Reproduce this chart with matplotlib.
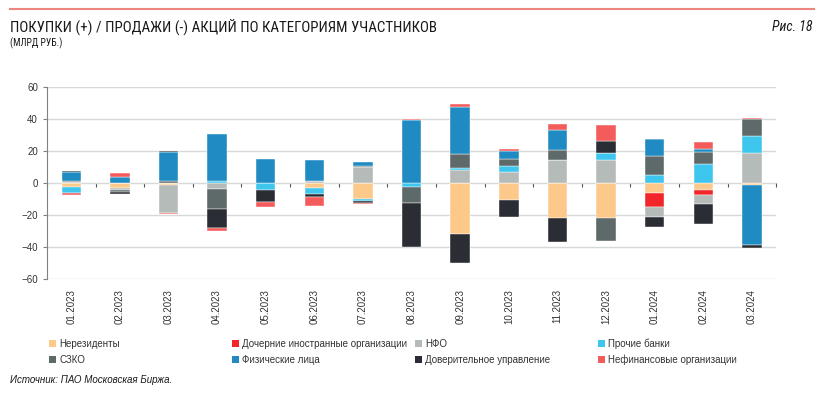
import matplotlib
matplotlib.use('Agg')
import matplotlib.pyplot as plt
from matplotlib import font_manager
from matplotlib.patches import Patch
import numpy as np

months = ['01.2023', '02.2023', '03.2023', '04.2023', '05.2023', '06.2023', '07.2023',
          '08.2023', '09.2023', '10.2023', '11.2023', '12.2023', '01.2024', '02.2024', '03.2024']

series_names = [
    'Нерезиденты',
    'Дочерние иностранные организации',
    'НФО',
    'Прочие банки',
    'СЗКО',
    'Физические лица',
    'Доверительное управление',
    'Нефинансовые организации',
]

nonresidents = [-2.5, -3.0, -1.0, 0, 0, -3.0, -10.0, 0, -31.9, -10.4, -21.9, -21.9, -5.8, -4.2, -1.2]
subsidiaries = [0, 0, 0, 0, 0, 0, 0, 0, 0, 0, 0, 0, -8.8, -3.1, 0]
nfo = [0.5, -1.5, -17.5, -3.5, 0, 1.5, 10.0, 0, 8.1, 6.9, 14.6, 14.6, -6.2, -5.6, 18.7]
other_banks = [-3.8, 0, 0, 1.5, -4.2, -3.5, -1.0, -2.5, 1.5, 4.1, 0, 4.2, 5.2, 12.1, 10.8]
szko = [1.0, -0.8, 1.5, -12.5, 0, 0, 0.6, -9.5, 8.5, 4.1, 6.2, -14.0, 12.1, 7.3, 10.4]
individuals = [5.5, 4.2, 18.0, 29.0, 15.2, 13.0, 2.9, 39.4, 29.6, 4.8, 12.5, 0, 10.4, 2.1, -37.1]
trust_mgmt = [0.8, -1.2, 0.5, -12.0, -7.5, -2.3, -1.5, -27.9, -17.7, -10.4, -14.6, 7.7, -6.7, -12.7, -1.9]
nonfinancial = [-1.0, 2.3, -0.7, -1.7, -2.9, -5.6, -0.5, 0.8, 2.0, 1.2, 3.5, 9.8, 0, 4.4, 0.6]

colors = ['#FDC98B', '#F2262A', '#B5BBB9', '#3EC6EE', '#5E6A69', '#1F8BC2', '#2A2D33', '#F45C5C']

names = {f.name for f in font_manager.fontManager.ttflist}
narrow = 'Roboto'
for cand in ['Liberation Sans Narrow', 'Roboto Condensed']:
    if cand in names:
        narrow = cand
        break
plt.rcParams['font.family'] = ['Liberation Sans', 'DejaVu Sans']

fig = plt.figure(figsize=(8.24, 3.98), dpi=100)
ax = fig.add_axes([0.057, 0.298, 0.885, 0.483])

data = [nonresidents, subsidiaries, nfo, other_banks, szko, individuals, trust_mgmt, nonfinancial]
x = np.arange(len(months))
pos_bottom = np.zeros(len(months))
neg_bottom = np.zeros(len(months))
for name, vals, c in zip(series_names, data, colors):
    v = np.array(vals, dtype=float)
    bottom = np.where(v >= 0, pos_bottom, neg_bottom)
    ax.bar(x, v, 0.4, bottom=bottom, color=c, label=name, zorder=3,
           edgecolor='white', linewidth=0.3)
    pos_bottom += np.clip(v, 0, None)
    neg_bottom += np.clip(v, None, 0)

ax.set_xlim(-0.5, len(months) - 0.5)
ax.set_ylim(-60, 60)
ax.set_yticks(range(-60, 61, 20))
ax.yaxis.grid(True, color='#d6d9d8', linewidth=1, zorder=0)
ax.set_axisbelow(True)
for s in ['top', 'right', 'bottom']:
    ax.spines[s].set_visible(False)
ax.spines['left'].set_color('#808080')
ax.tick_params(axis='y', labelsize=7, colors='#333333', length=3, color='#808080')
ax.tick_params(axis='y', labelcolor='#333333')
ax.set_xticks(x)
ax.set_xticklabels(months, rotation=90, fontsize=7, color='#333333')
ax.tick_params(axis='x', length=0, pad=7)

# zero line with category ticks
sec = ax.secondary_xaxis(0.5)
sec.set_xticks(np.arange(len(months) + 1) - 0.5)
sec.xaxis.set_ticks_position('bottom')
sec.tick_params(axis='x', labelbottom=False, labeltop=False, length=3, direction='out',
                color='#555555')
sec.spines['bottom'].set_color('#555555')
sec.spines['bottom'].set_linewidth(1.0)
for s in ['top', 'left', 'right']:
    sec.spines[s].set_visible(False)

# header
fig.add_artist(plt.Line2D([10 / 824, 814 / 824], [0.977, 0.977], color='#EE8680',
                          linewidth=1.5, transform=fig.transFigure))
fig.text(10 / 824, 0.921, 'ПОКУПКИ (+) / ПРОДАЖИ (-) АКЦИЙ ПО КАТЕГОРИЯМ УЧАСТНИКОВ',
         fontsize=10.8, family=narrow, color='#1a1a1a', va='baseline')
fig.text(10 / 824, 0.883, '(МЛРД РУБ.)', fontsize=7, family=narrow, color='#1a1a1a',
         va='baseline')
fig.text(812 / 824, 0.921, 'Рис. 18', fontsize=10, family=narrow, style='italic',
         color='#1a1a1a', ha='right', va='baseline')

# legend in four columns
handles = [Patch(facecolor=c) for c in colors]
col_x = [49, 232, 415, 598]
for i, cx in enumerate(col_x):
    idx = [i, i + 4]
    fig.legend([handles[j] for j in idx], [series_names[j] for j in idx],
               loc='center left', bbox_to_anchor=(cx / 824, 1 - 352 / 398),
               frameon=False, fontsize=7, handlelength=0.75, handleheight=0.75,
               handletextpad=0.3, labelspacing=0.55, borderaxespad=0, borderpad=0,
               labelcolor='#333333')

fig.text(10 / 824, 1 - 380 / 398, 'Источник: ПАО Московская Биржа.', fontsize=7,
         style='italic', color='#1a1a1a', va='center')

fig.savefig('out.png', dpi=100)
